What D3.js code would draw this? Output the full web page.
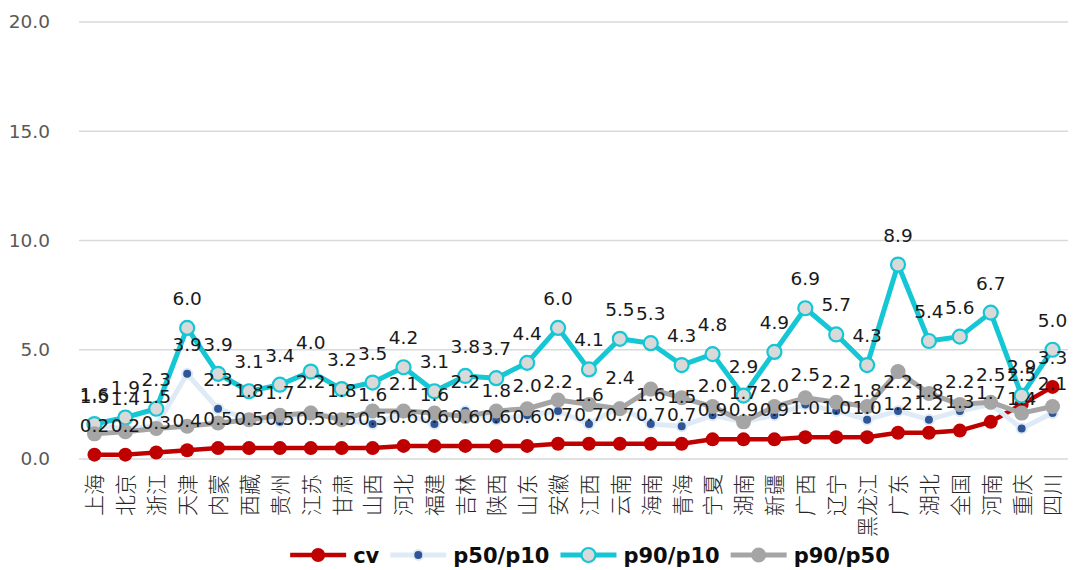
<!DOCTYPE html>
<html>
<head>
<meta charset="utf-8">
<script src="https://cdn.jsdelivr.net/npm/d3@7/dist/d3.min.js"></script>
<style>
  html, body { margin: 0; padding: 0; background: #fff; }
  svg { display: block; }
</style>
</head>
<body>
<div id="chart"></div>
<script>
// 数据
const categories = ['上海', '北京', '浙江', '天津', '内蒙', '西藏', '贵州', '江苏', '甘肃', '山西', '河北',
  '福建', '吉林', '陕西', '山东', '安徽', '江西', '云南', '海南', '青海', '宁夏', '湖南', '新疆', '广西',
  '辽宁', '黑龙江', '广东', '湖北', '全国', '河南', '重庆', '四川']
const cv = [0.2, 0.2, 0.3, 0.4, 0.5, 0.5, 0.5, 0.5, 0.5, 0.5, 0.6, 0.6, 0.6, 0.6, 0.6, 0.7,
  0.7, 0.7, 0.7, 0.7, 0.9, 0.9, 0.9, 1.0, 1.0, 1.0, 1.2, 1.2, 1.3, 1.7, 2.5, 3.3]
const p50p10 = [1.5, 1.4, 1.5, 3.9, 2.3, 1.8, 1.7, 2.2, 1.8, 1.6, 2.1, 1.6, 2.2, 1.8, 2.0, 2.2,
  1.6, 2.4, 1.6, 1.5, 2.0, 1.7, 2.0, 2.5, 2.2, 1.8, 2.2, 1.8, 2.2, 2.5, 1.4, 2.1]
const p90p10 = [1.6, 1.9, 2.3, 6.0, 3.9, 3.1, 3.4, 4.0, 3.2, 3.5, 4.2, 3.1, 3.8, 3.7, 4.4, 6.0,
  4.1, 5.5, 5.3, 4.3, 4.8, 2.9, 4.9, 6.9, 5.7, 4.3, 8.9, 5.4, 5.6, 6.7, 2.9, 5.0]
const p90p50 = [1.15, 1.25, 1.4, 1.5, 1.65, 1.8, 2.0, 2.1, 1.8, 2.2, 2.2, 2.1, 1.95, 2.2, 2.3, 2.7,
  2.5, 2.3, 3.2, 2.8, 2.4, 1.7, 2.4, 2.8, 2.6, 2.4, 4.0, 3.0, 2.5, 2.6, 2.1, 2.4]
const yTicks = [0, 5, 10, 15, 20]

const width = 1073
const height = 570
const plot = { left: 79, right: 1068, top: 22, bottom: 459 }
const numFont = '"DejaVu Sans", sans-serif'

// 系列样式
const series = [
  { name: 'cv', values: cv, line: '#C00000', lineWidth: 4.5, r: 7, fill: '#C00000', stroke: '#C00000', sw: 0, label: true },
  { name: 'p50/p10', values: p50p10, line: '#DEEBF7', lineWidth: 5, r: 5, fill: '#2F5597', stroke: '#DEEBF7', sw: 2, label: true },
  { name: 'p90/p10', values: p90p10, line: '#15C6D4', lineWidth: 5, r: 7, fill: '#D9D9D9', stroke: '#15C6D4', sw: 2.2, label: true },
  { name: 'p90/p50', values: p90p50, line: '#A5A5A5', lineWidth: 5, r: 7.5, fill: '#A5A5A5', stroke: '#A5A5A5', sw: 0, label: false }
]

const svg = d3.select('#chart')
  .append('svg')
  .attr('width', width)
  .attr('height', height)

const xScale = d3.scalePoint()
  .domain(categories)
  .range([plot.left, plot.right])
  .padding(0.5)
const yScale = d3.scaleLinear()
  .domain([0, 20])
  .range([plot.bottom, plot.top])

// 网格线
svg.append('g')
  .selectAll('line')
  .data(yTicks)
  .enter()
  .append('line')
  .attr('x1', plot.left)
  .attr('x2', plot.right)
  .attr('y1', d => yScale(d))
  .attr('y2', d => yScale(d))
  .attr('stroke', '#D9D9D9')
  .attr('stroke-width', 1.5)

// y轴
const yAxis = d3.axisLeft(yScale)
  .tickValues(yTicks)
  .tickFormat(d3.format('.1f'))
  .tickSize(0)
  .tickPadding(0)
const gy = svg.append('g')
  .attr('transform', 'translate(50,0)')
  .call(yAxis)
gy.select('.domain').remove()
gy.selectAll('text')
  .attr('fill', '#595959')
  .style('font-family', numFont)
  .style('font-size', '18.5px')

// x轴 (竖排文字)
const xAxis = d3.axisBottom(xScale).tickSize(0).tickPadding(0)
const gx = svg.append('g')
  .attr('transform', 'translate(0,' + plot.bottom + ')')
  .call(xAxis)
gx.select('.domain').remove()
gx.selectAll('text')
  .attr('transform', 'translate(0,15) rotate(-90)')
  .attr('y', 0)
  .attr('dy', '0.35em')
  .attr('text-anchor', 'end')
  .attr('fill', '#262626')
  .style('font-family', '"Noto Sans CJK SC", sans-serif')
  .style('font-size', '21px')
  .style('font-weight', 300)

// 折线和点
const linePath = d3.line()
  .x((d, i) => xScale(categories[i]))
  .y(d => yScale(d))

series.forEach(s => {
  const g = svg.append('g')
  g.append('path')
    .attr('d', linePath(s.values))
    .attr('fill', 'none')
    .attr('stroke', s.line)
    .attr('stroke-width', s.lineWidth)
    .attr('stroke-linejoin', 'round')
  g.selectAll('circle')
    .data(s.values)
    .enter()
    .append('circle')
    .attr('cx', (d, i) => xScale(categories[i]))
    .attr('cy', d => yScale(d))
    .attr('r', s.r)
    .attr('fill', s.fill)
    .attr('stroke', s.stroke)
    .attr('stroke-width', s.sw)
})

// 数据标签
series.filter(s => s.label).forEach(s => {
  svg.append('g')
    .selectAll('text')
    .data(s.values)
    .enter()
    .append('text')
    .attr('x', (d, i) => xScale(categories[i]))
    .attr('y', d => yScale(d) - 23)
    .attr('text-anchor', 'middle')
    .attr('fill', '#1a1a1a')
    .style('font-family', numFont)
    .style('font-size', '18.5px')
    .text(d => d.toFixed(1))
})

// 图例
const legend = svg.append('g')
let lx = 0
series.forEach(s => {
  const item = legend.append('g').attr('transform', 'translate(' + lx + ',0)')
  item.append('line')
    .attr('x1', 0).attr('x2', 56)
    .attr('y1', 0).attr('y2', 0)
    .attr('stroke', s.line)
    .attr('stroke-width', s.lineWidth)
  item.append('circle')
    .attr('cx', 28).attr('cy', 0)
    .attr('r', s.r)
    .attr('fill', s.fill)
    .attr('stroke', s.stroke)
    .attr('stroke-width', s.sw)
  const t = item.append('text')
    .attr('x', 63)
    .attr('y', 8)
    .attr('fill', '#0d0d0d')
    .style('font-family', numFont)
    .style('font-size', '21px')
    .style('font-weight', 'bold')
    .text(s.name)
  lx += 63 + t.node().getComputedTextLength() + 11
})
const legendWidth = lx - 11
legend.attr('transform', 'translate(' + (590 - legendWidth / 2) + ',555)')
</script>
</body>
</html>
